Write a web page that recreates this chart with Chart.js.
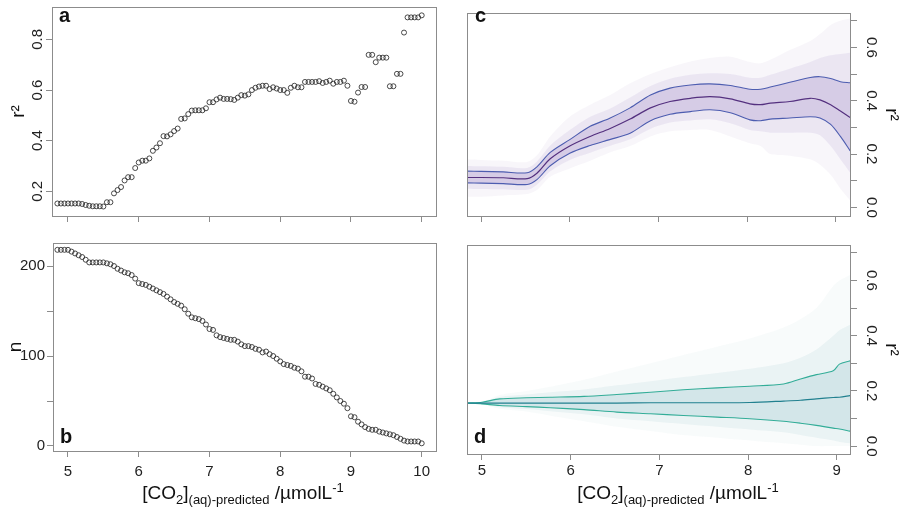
<!DOCTYPE html>
<html lang="en">
<head>
<meta charset="UTF-8">
<title>r2 vs CO2</title>
<script src="https://cdn.jsdelivr.net/npm/chart.js"></script>
<style>
    body { margin: 0; background: #fff; font-family: 'Liberation Sans', Arial, sans-serif; }
    #wrap { position: relative; width: 899px; height: 515px; overflow: hidden; }
    canvas { position: absolute; }
    .lbl { position: absolute; font-weight: bold; font-size: 20px; line-height: 1; color: #111; }
    .xt { position: absolute; font-size: 19px; line-height: 1; color: #111; white-space: nowrap; transform: translateX(-50%); }
    .xt sub, .xt sup { font-size: 13px; }
</style>
</head>
<body>
<div id="wrap">
    <canvas id="ca" width="450" height="232" style="left:0;top:0"></canvas>
    <canvas id="cb" width="450" height="283" style="left:0;top:232px"></canvas>
    <canvas id="cc" width="449" height="232" style="left:450px;top:0"></canvas>
    <canvas id="cd" width="449" height="283" style="left:450px;top:232px"></canvas>
    <div class="lbl" style="left:59px;top:5px">a</div>
    <div class="lbl" style="left:60px;top:426px">b</div>
    <div class="lbl" style="left:475px;top:5px">c</div>
    <div class="lbl" style="left:474px;top:426px">d</div>
    <div class="xt" style="left:243px;top:481px">[CO<sub>2</sub>]<sub>(aq)-predicted</sub> /µmolL<sup>-1</sup></div>
    <div class="xt" style="left:678px;top:481px">[CO<sub>2</sub>]<sub>(aq)-predicted</sub> /µmolL<sup>-1</sup></div>
</div>
<script>
// observed windows (panels a, b)
const xVals = [4.85, 4.90, 4.95, 5.00,
    5.05, 5.10, 5.15, 5.20, 5.25, 5.30, 5.35, 5.40, 5.45, 5.50,
    5.55, 5.60, 5.65, 5.70, 5.75, 5.80, 5.85, 5.90, 5.95, 6.00,
    6.05, 6.10, 6.15, 6.20, 6.25, 6.30, 6.35, 6.40, 6.45, 6.50,
    6.55, 6.60, 6.65, 6.70, 6.75, 6.80, 6.85, 6.90, 6.95, 7.00,
    7.05, 7.10, 7.15, 7.20, 7.25, 7.30, 7.35, 7.40, 7.45, 7.50,
    7.55, 7.60, 7.65, 7.70, 7.75, 7.80, 7.85, 7.90, 7.95, 8.00,
    8.05, 8.10, 8.15, 8.20, 8.25, 8.30, 8.35, 8.40, 8.45, 8.50,
    8.55, 8.60, 8.65, 8.70, 8.75, 8.80, 8.85, 8.90, 8.95, 9.00,
    9.05, 9.10, 9.15, 9.20, 9.25, 9.30, 9.35, 9.40, 9.45, 9.50,
    9.55, 9.60, 9.65, 9.70, 9.75, 9.80, 9.85, 9.90, 9.95, 10.00];
const r2Vals = [0.152, 0.152, 0.152, 0.152,
    0.152, 0.152, 0.152, 0.150, 0.146, 0.143, 0.141, 0.141, 0.141, 0.140,
    0.157, 0.157, 0.192, 0.205, 0.217, 0.243, 0.256, 0.256, 0.292, 0.314,
    0.321, 0.321, 0.330, 0.360, 0.373, 0.390, 0.418, 0.417, 0.425, 0.438,
    0.448, 0.486, 0.488, 0.505, 0.519, 0.520, 0.520, 0.520, 0.528, 0.552,
    0.552, 0.563, 0.570, 0.565, 0.565, 0.564, 0.561, 0.570, 0.580, 0.578,
    0.583, 0.600, 0.609, 0.614, 0.617, 0.617, 0.604, 0.611, 0.606, 0.600,
    0.600, 0.589, 0.609, 0.617, 0.611, 0.611, 0.632, 0.632, 0.632, 0.632,
    0.635, 0.628, 0.632, 0.637, 0.625, 0.632, 0.632, 0.637, 0.617, 0.557,
    0.554, 0.590, 0.612, 0.612, 0.739, 0.739, 0.710, 0.728, 0.728, 0.728,
    0.615, 0.615, 0.664, 0.664, 0.827, 0.887, 0.887, 0.887, 0.887, 0.895];
const nVals = [218, 218, 218, 218,
    216, 214, 212, 210, 207, 204, 204, 204, 204, 204,
    203, 202, 200, 197, 195, 193, 192, 190, 186, 181,
    180, 179, 177, 175, 173, 171, 169, 166, 163, 160,
    158, 156, 152, 147, 143, 142, 141, 139, 135, 130,
    129, 123, 121, 120, 119, 118, 118, 116, 113, 111,
    111, 110, 108, 107, 104, 105, 102, 100, 97, 94,
    91, 90, 89, 87, 86, 83, 77, 77, 75, 69,
    68, 66, 64, 62, 58, 54, 50, 47, 42, 33,
    32, 27, 24, 21, 19, 18, 18, 16, 15, 14,
    13, 12, 10, 8, 6, 5, 5, 5, 5, 3];

// simulated r2 (panel c): quantile lines and spread of the runs
const cX = [4.84, 5.00, 5.25, 5.52, 5.63, 5.78, 6.00, 6.23, 6.45, 6.68, 6.91, 7.13,
    7.36, 7.58, 7.81, 8.03, 8.15, 8.26, 8.48, 8.71, 8.82, 8.94, 9.05, 9.16];
const cMedian = [0.112, 0.112, 0.111, 0.108, 0.128, 0.182, 0.230, 0.266, 0.295, 0.331, 0.373, 0.397,
    0.409, 0.415, 0.407, 0.388, 0.385, 0.391, 0.397, 0.409, 0.403, 0.385, 0.361, 0.337];
const cUpper = [0.136, 0.135, 0.133, 0.130, 0.152, 0.206, 0.254, 0.304, 0.334, 0.373, 0.421, 0.447,
    0.459, 0.463, 0.457, 0.443, 0.443, 0.451, 0.469, 0.487, 0.490, 0.483, 0.471, 0.467];
const cLower = [0.092, 0.091, 0.089, 0.086, 0.104, 0.156, 0.203, 0.232, 0.254, 0.278, 0.325, 0.349,
    0.359, 0.366, 0.355, 0.328, 0.325, 0.331, 0.335, 0.340, 0.335, 0.311, 0.266, 0.212];
const cMidHigh = [0.155, 0.154, 0.152, 0.148, 0.172, 0.232, 0.290, 0.340, 0.370, 0.412, 0.455, 0.482,
    0.497, 0.503, 0.500, 0.486, 0.486, 0.497, 0.520, 0.545, 0.560, 0.570, 0.575, 0.580];
const cMidLow = [0.070, 0.069, 0.068, 0.066, 0.085, 0.135, 0.178, 0.205, 0.230, 0.255, 0.295, 0.318,
    0.326, 0.330, 0.315, 0.290, 0.285, 0.280, 0.280, 0.280, 0.270, 0.230, 0.180, 0.130];
const cOuterHigh = [0.180, 0.178, 0.175, 0.170, 0.195, 0.266, 0.340, 0.385, 0.420, 0.465, 0.500, 0.525,
    0.547, 0.560, 0.565, 0.545, 0.540, 0.553, 0.590, 0.624, 0.650, 0.684, 0.700, 0.708];
const cOuterLow = [0.040, 0.040, 0.045, 0.050, 0.065, 0.115, 0.146, 0.175, 0.206, 0.230, 0.266, 0.285,
    0.290, 0.290, 0.266, 0.240, 0.230, 0.200, 0.194, 0.180, 0.160, 0.122, 0.070, 0.026];

// null model r2 (panel d)
const dX = [4.84, 5.00, 5.20, 5.50, 5.77, 6.15, 6.52, 6.90, 7.27, 7.65, 8.02, 8.40, 8.59, 8.77, 8.96, 9.03, 9.15];
const dMedian = [0.156, 0.156, 0.156, 0.156, 0.156, 0.156, 0.156, 0.157, 0.157, 0.157, 0.158, 0.163, 0.166, 0.171, 0.176, 0.177, 0.183];
const dUpper = [0.156, 0.159, 0.171, 0.175, 0.177, 0.180, 0.187, 0.195, 0.204, 0.211, 0.217, 0.225, 0.243, 0.259, 0.273, 0.297, 0.309];
const dLower = [0.156, 0.153, 0.147, 0.143, 0.139, 0.132, 0.123, 0.117, 0.111, 0.105, 0.099, 0.090, 0.083, 0.075, 0.065, 0.062, 0.054];
const dMidHigh = [0.156, 0.159, 0.178, 0.187, 0.195, 0.205, 0.220, 0.235, 0.250, 0.265, 0.280, 0.300, 0.320, 0.350, 0.400, 0.420, 0.440];
const dMidLow = [0.156, 0.153, 0.141, 0.134, 0.126, 0.115, 0.100, 0.090, 0.080, 0.070, 0.060, 0.050, 0.040, 0.030, 0.020, 0.015, 0.010];
const dOuterHigh = [0.156, 0.160, 0.185, 0.200, 0.215, 0.240, 0.270, 0.300, 0.330, 0.360, 0.390, 0.430, 0.460, 0.500, 0.580, 0.600, 0.620];
const dOuterLow = [0.156, 0.152, 0.135, 0.125, 0.110, 0.090, 0.070, 0.055, 0.040, 0.030, 0.020, 0.010, 0.005, 0.000, 0.000, 0.000, 0.000];

const xTicks = [5, 6, 7, 8, 9, 10];
const simXTicks = [5, 6, 7, 8, 9];
const r2Ticks = [0.2, 0.4, 0.6, 0.8];
const nTicks = [0, 50, 100, 150, 200];
const nTickLabels = ['0', '', '100', '', '200'];
const simTicks = [0, 0.1, 0.2, 0.3, 0.4, 0.5, 0.6, 0.7];
const simTickLabels = ['0.0', '', '0.2', '', '0.4', '', '0.6', ''];

const GRID = '#8c8c8c';
Chart.defaults.font.family = "'Liberation Sans', Arial, sans-serif";
Chart.defaults.color = '#222';

const boxPlugin = {
    id: 'box',
    afterDraw(chart) {
        const a = chart.chartArea, ctx = chart.ctx;
        ctx.save();
        ctx.strokeStyle = GRID;
        ctx.lineWidth = 1;
        ctx.strokeRect(Math.round(a.left) + 0.5, Math.round(a.top) + 0.5,
            Math.round(a.right - a.left), Math.round(a.bottom - a.top));
        ctx.restore();
    }
};

function pts(xs, ys) { return xs.map((x, i) => ({x: x, y: ys[i]})); }

function xAxis(min, max, ticks, showLabels, h, pad) {
    return {
        type: 'linear', position: 'bottom', min: min, max: max,
        afterBuildTicks: s => { s.ticks = ticks.map(v => ({value: v})); },
        afterFit: s => { s.height = h; },
        border: {display: false},
        grid: {drawOnChartArea: false, color: GRID, tickLength: 6},
        ticks: {display: showLabels, autoSkip: false, maxRotation: 0, padding: pad,
            font: {size: 15}, color: '#222', callback: v => String(v)}
    };
}

function yAxis(opts) {
    return {
        type: 'linear', position: opts.pos, min: opts.min, max: opts.max,
        afterBuildTicks: s => { s.ticks = opts.ticks.map(v => ({value: v})); },
        afterFit: s => { s.width = opts.w; },
        border: {display: false},
        grid: {drawOnChartArea: false, color: GRID, tickLength: opts.tl || 6},
        ticks: {autoSkip: false, padding: opts.pad, minRotation: opts.rot, maxRotation: opts.rot,
            crossAlign: opts.rot ? 'center' : 'near',
            font: {size: 15}, color: '#222', callback: (v, i) => opts.labels[i]},
        title: {display: true, text: opts.title, color: '#111', font: {size: 19, lineHeight: 1},
            padding: {top: opts.tpad, bottom: 0}}
    };
}

function scatterPanel(id, ys, yOpts, xOpts, layoutPad) {
    new Chart(document.getElementById(id), {
        type: 'scatter',
        data: {datasets: [{
            data: pts(xVals, ys),
            pointStyle: 'circle', pointRadius: 2.5, pointBorderWidth: 0.85,
            pointBorderColor: '#2a2a2a', pointBackgroundColor: 'rgba(0,0,0,0)'
        }]},
        options: {
            responsive: false, animation: false, devicePixelRatio: 1,
            layout: {padding: layoutPad},
            plugins: {legend: {display: false}, tooltip: {enabled: false}},
            scales: {x: xOpts, y: yAxis(yOpts)}
        },
        plugins: [boxPlugin]
    });
}

function band(xs, ys, color, fill) {
    return {type: 'line', data: pts(xs, ys), borderWidth: 0, pointRadius: 0, tension: 0.3,
        backgroundColor: color, fill: fill, order: 5};
}
function qline(xs, ys, color, w) {
    return {type: 'line', data: pts(xs, ys), borderColor: color, borderWidth: w, pointRadius: 0,
        tension: 0.3, fill: false, order: 0};
}

function simPanel(id, xs, s, col, yOpts, xOpts, layoutPad) {
    new Chart(document.getElementById(id), {
        type: 'line',
        data: {datasets: [
            band(xs, s.outerLow, 'rgba(0,0,0,0)', false),
            band(xs, s.outerHigh, col.fill + col.a[0] + ')', '-1'),
            band(xs, s.midLow, 'rgba(0,0,0,0)', false),
            band(xs, s.midHigh, col.fill + col.a[1] + ')', '-1'),
            Object.assign(qline(xs, s.lower, col.q, 1.1), {order: 1}),
            Object.assign(qline(xs, s.upper, col.q, 1.1), {order: 1, fill: '-1', backgroundColor: col.fill + col.a[2] + ')'}),
            qline(xs, s.median, col.m, 1.2)
        ]},
        options: {
            responsive: false, animation: false, devicePixelRatio: 1,
            layout: {padding: layoutPad},
            plugins: {legend: {display: false}, tooltip: {enabled: false}},
            scales: {x: xOpts, y: yAxis(yOpts)}
        },
        plugins: [boxPlugin]
    });
}

scatterPanel('ca', r2Vals,
    {pos: 'left', min: 0.1026, max: 0.928, ticks: r2Ticks, labels: r2Ticks.map(String),
     w: 52, pad: -2, rot: 90, title: 'r²', tpad: 9},
    xAxis(4.774, 10.202, xTicks, false, 16, 0),
    {left: 0, right: 14, top: 4, bottom: 0});

scatterPanel('cb', nVals,
    {pos: 'left', min: -5.56, max: 225.6, ticks: nTicks, labels: nTickLabels,
     w: 53, pad: 2, rot: 0, title: 'n', tpad: 6},
    xAxis(4.788, 10.202, xTicks, true, 64, 6),
    {left: 0, right: 14, top: 11, bottom: 0});

simPanel('cc', cX,
    {median: cMedian, upper: cUpper, lower: cLower, midHigh: cMidHigh, midLow: cMidLow,
     outerHigh: cOuterHigh, outerLow: cOuterLow},
    {fill: 'rgba(128,98,178,', a: [0.06, 0.11, 0.2], q: '#4d5db0', m: '#54307f'},
    {pos: 'right', min: -0.0323, max: 0.7287, ticks: simTicks, labels: simTickLabels,
     w: 49, pad: 4, tl: 7, rot: -90, title: 'r²', tpad: -2},
    xAxis(4.842, 9.158, simXTicks, false, 16, 0),
    {left: 17, right: 0, top: 4, bottom: 0});

simPanel('cd', dX,
    {median: dMedian, upper: dUpper, lower: dLower, midHigh: dMidHigh, midLow: dMidLow,
     outerHigh: dOuterHigh, outerLow: dOuterLow},
    {fill: 'rgba(80,155,165,', a: [0.04, 0.08, 0.15], q: '#33ad98', m: '#21808f'},
    {pos: 'right', min: -0.0287, max: 0.7287, ticks: simTicks, labels: simTickLabels,
     w: 49, pad: 4, tl: 7, rot: -90, title: 'r²', tpad: -2},
    xAxis(4.831, 9.149, simXTicks, true, 61, 2),
    {left: 17, right: 0, top: 11, bottom: 0});
</script>
</body>
</html>
